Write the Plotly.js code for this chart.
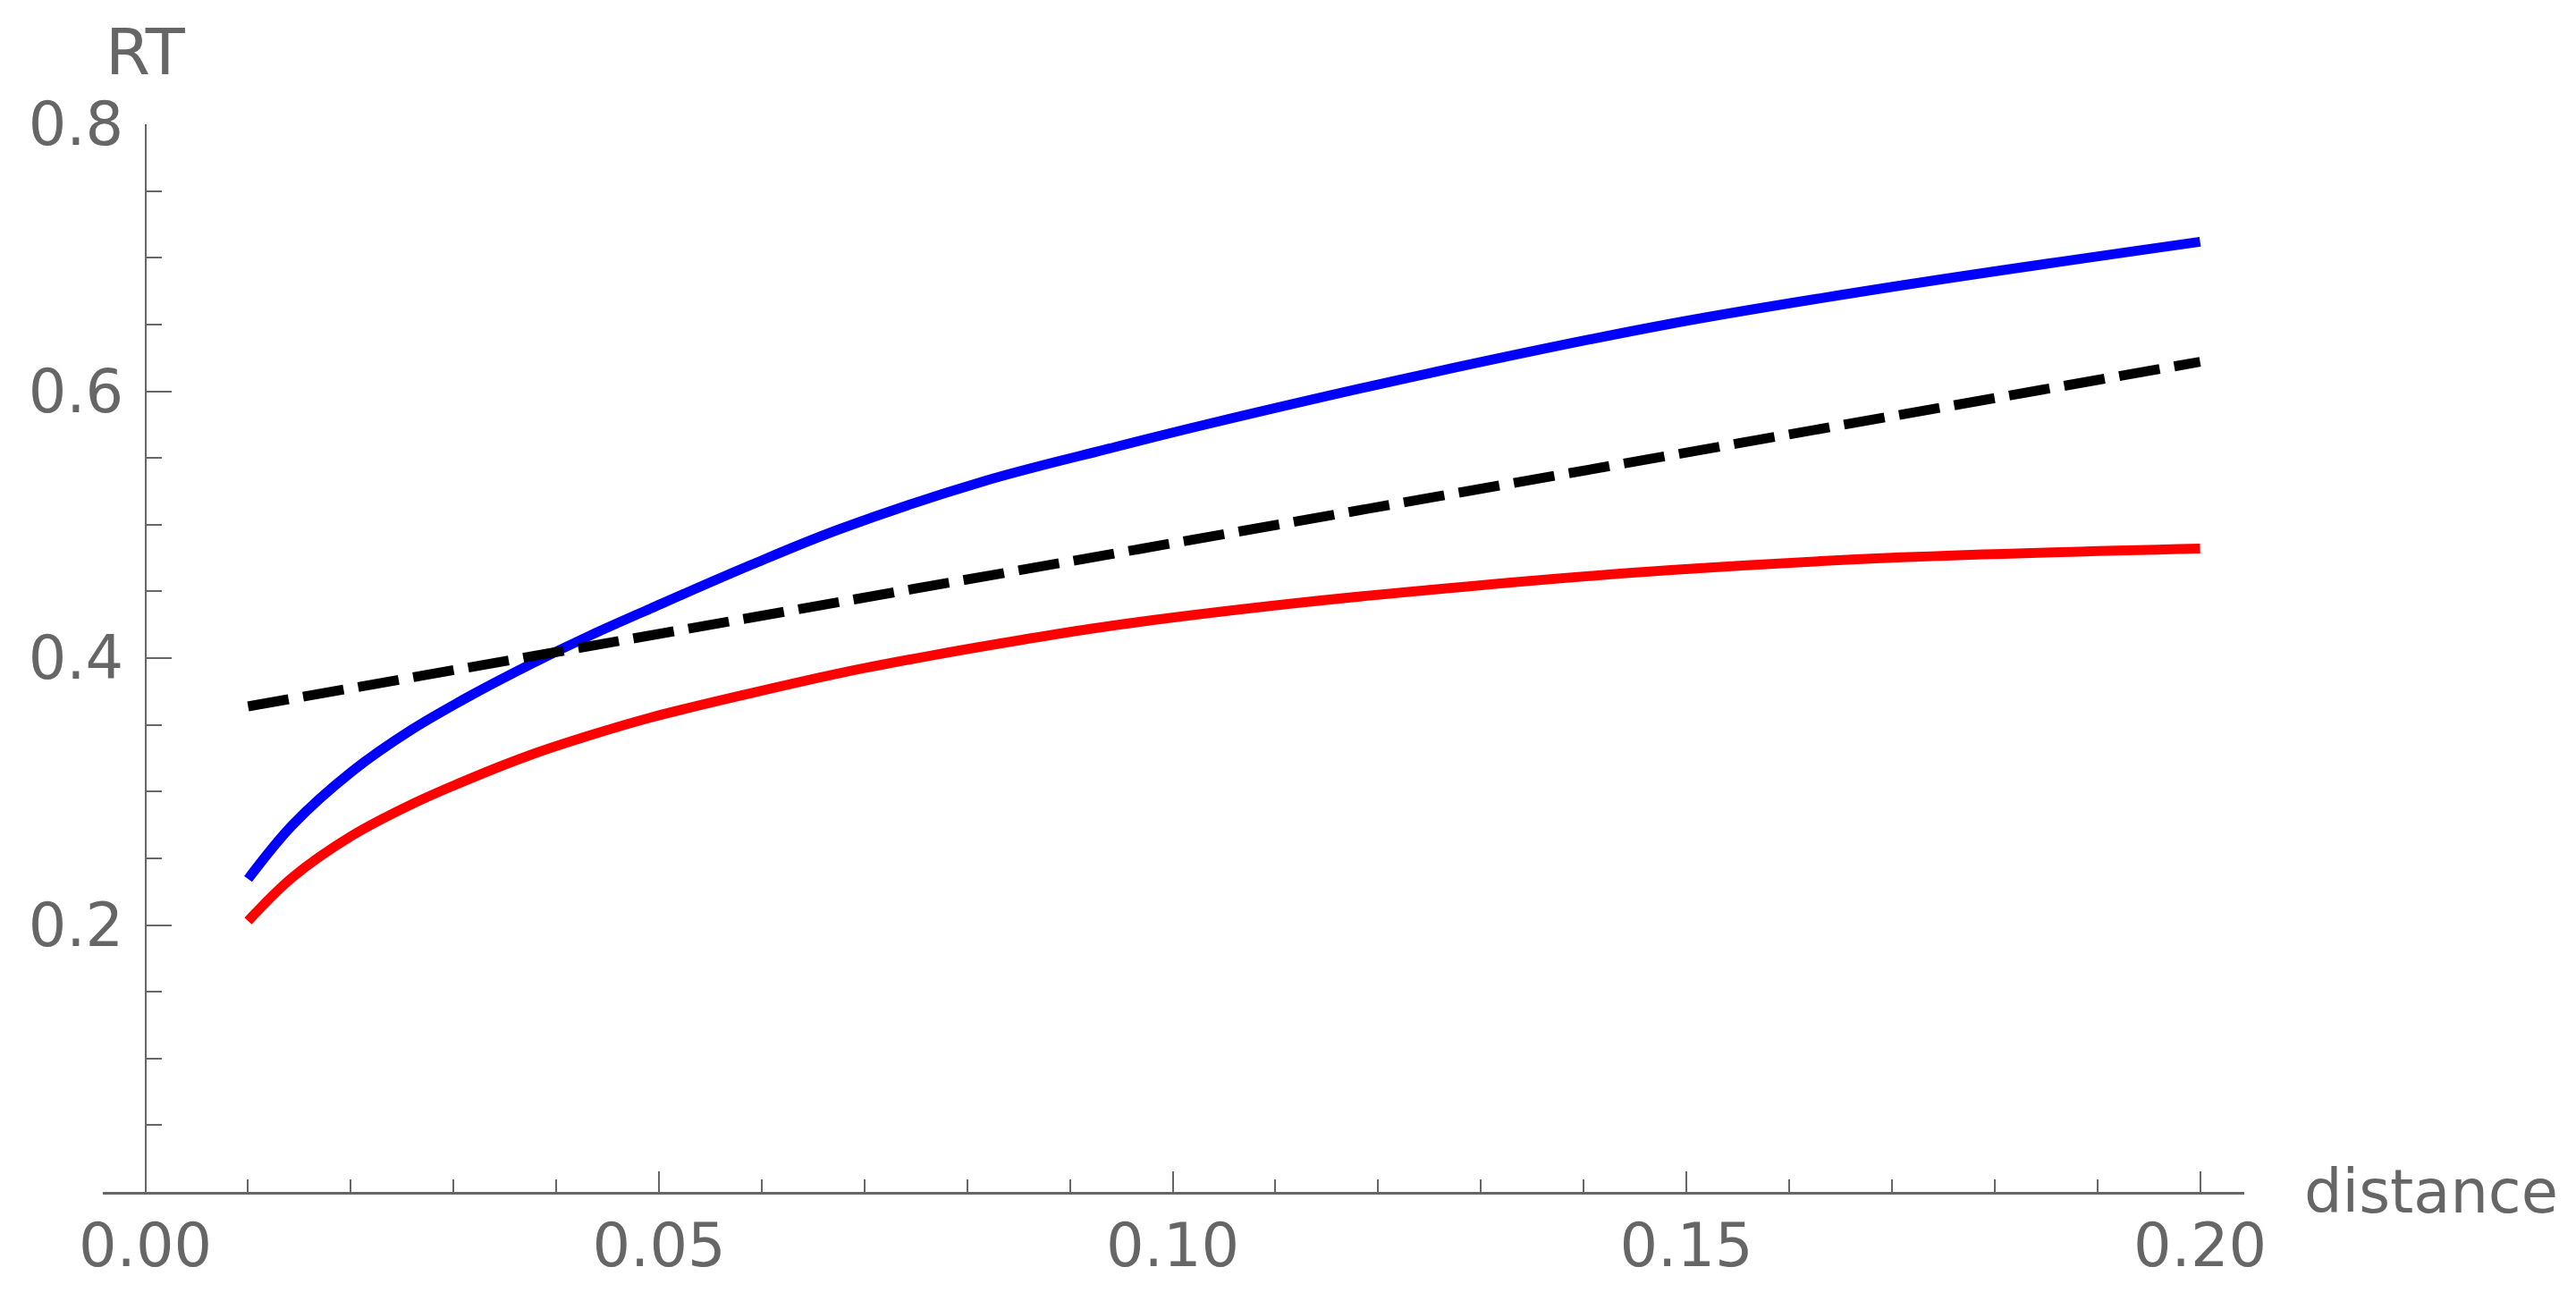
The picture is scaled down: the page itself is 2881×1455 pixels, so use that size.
<!DOCTYPE html>
<html>
<head>
<meta charset="utf-8">
<script src="https://cdn.plot.ly/plotly-3.0.1.min.js"></script>
<style>
  html, body { margin: 0; padding: 0; background: #ffffff; }
  #chart { width: 2881px; height: 1455px; }
</style>
</head>
<body>
<div id="chart"></div>
<script>
// ---- data ----
const blueX = [0.0100, 0.0143, 0.0201, 0.0259, 0.0317, 0.0375, 0.0433, 0.0491, 0.0590, 0.0677, 0.0816, 0.0938, 0.1033, 0.1251, 0.1485, 0.1709, 0.2000];
const blueY = [0.2345, 0.2748, 0.3150, 0.3463, 0.3721, 0.3954, 0.4170, 0.4369, 0.4700, 0.4970, 0.5325, 0.5570, 0.5752, 0.6137, 0.6506, 0.6792, 0.7120];

const redX = [0.0100, 0.0143, 0.0201, 0.0259, 0.0317, 0.0375, 0.0433, 0.0491, 0.0590, 0.0677, 0.0764, 0.0851, 0.0938, 0.1118, 0.1291, 0.1485, 0.1709, 0.2000];
const redY = [0.2030, 0.2356, 0.2669, 0.2904, 0.3100, 0.3275, 0.3422, 0.3553, 0.3738, 0.3889, 0.4018, 0.4134, 0.4240, 0.4410, 0.4540, 0.4660, 0.4755, 0.4821];

const blackX = [0.01, 0.2];
const blackY = [0.3638, 0.6220];

const xTickVals = [0, 0.05, 0.10, 0.15, 0.20];
const xTickText = ["0.00", "0.05", "0.10", "0.15", "0.20"];
const yTickVals = [0.2, 0.4, 0.6, 0.8];
const yTickText = ["0.2", "0.4", "0.6", "0.8"];

const xTitle = "distance";
const yTitle = "RT";

// ---- styling ----
const AX = "#666666";
const FONT = "DejaVu Sans";
const FS = 67;

const traces = [
  { x: blueX, y: blueY, type: "scatter", mode: "lines",
    line: { color: "#0000ff", width: 11, shape: "spline", smoothing: 1 }, hoverinfo: "skip" },
  { x: redX, y: redY, type: "scatter", mode: "lines",
    line: { color: "#ff0000", width: 11, shape: "spline", smoothing: 1 }, hoverinfo: "skip" },
  { x: blackX, y: blackY, type: "scatter", mode: "lines",
    line: { color: "#000000", width: 11, dash: "46px,16.5px" }, hoverinfo: "skip" }
];

const layout = {
  width: 2881, height: 1455,
  paper_bgcolor: "#ffffff", plot_bgcolor: "#ffffff",
  showlegend: false,
  margin: { l: 115, r: 371, t: 139, b: 122, pad: 0 },
  font: { family: FONT, size: FS, color: AX },
  xaxis: {
    range: [-0.00414, 0.2043],
    showgrid: false, zeroline: false,
    showline: true, linecolor: AX, linewidth: 2.5,
    tickmode: "array", tickvals: xTickVals, ticktext: xTickText,
    ticks: "inside", ticklen: 23.5, tickwidth: 2, tickcolor: AX,
    ticklabelstandoff: 0,
    tickfont: { family: FONT, size: FS, color: AX },
    minor: { dtick: 0.01, tick0: 0, ticks: "inside", ticklen: 13.7, tickwidth: 2, tickcolor: AX, showgrid: false },
    fixedrange: true
  },
  yaxis: {
    range: [0, 0.8],
    anchor: "free", position: 0.01987,
    showgrid: false, zeroline: false,
    showline: true, linecolor: AX, linewidth: 2.5,
    tickmode: "array", tickvals: yTickVals, ticktext: yTickText,
    ticks: "inside", ticklen: 28, tickwidth: 2, tickcolor: AX,
    ticklabelstandoff: 10,
    tickfont: { family: FONT, size: FS, color: AX },
    minor: { dtick: 0.05, tick0: 0, ticks: "inside", ticklen: 17, tickwidth: 2, tickcolor: AX, showgrid: false },
    fixedrange: true
  },
  annotations: [
    { text: yTitle, xref: "x", x: 0, yref: "y", y: 0.8, xanchor: "center", yanchor: "middle",
      yshift: 81, showarrow: false, font: { family: FONT, size: 72, color: AX } },
    { text: xTitle, xref: "paper", x: 1.0271, yref: "y", y: 0, xanchor: "left", yanchor: "middle",
      showarrow: false, font: { family: FONT, size: FS, color: AX } }
  ]
};

Plotly.newPlot("chart", traces, layout, { staticPlot: true, displayModeBar: false });
</script>
</body>
</html>
